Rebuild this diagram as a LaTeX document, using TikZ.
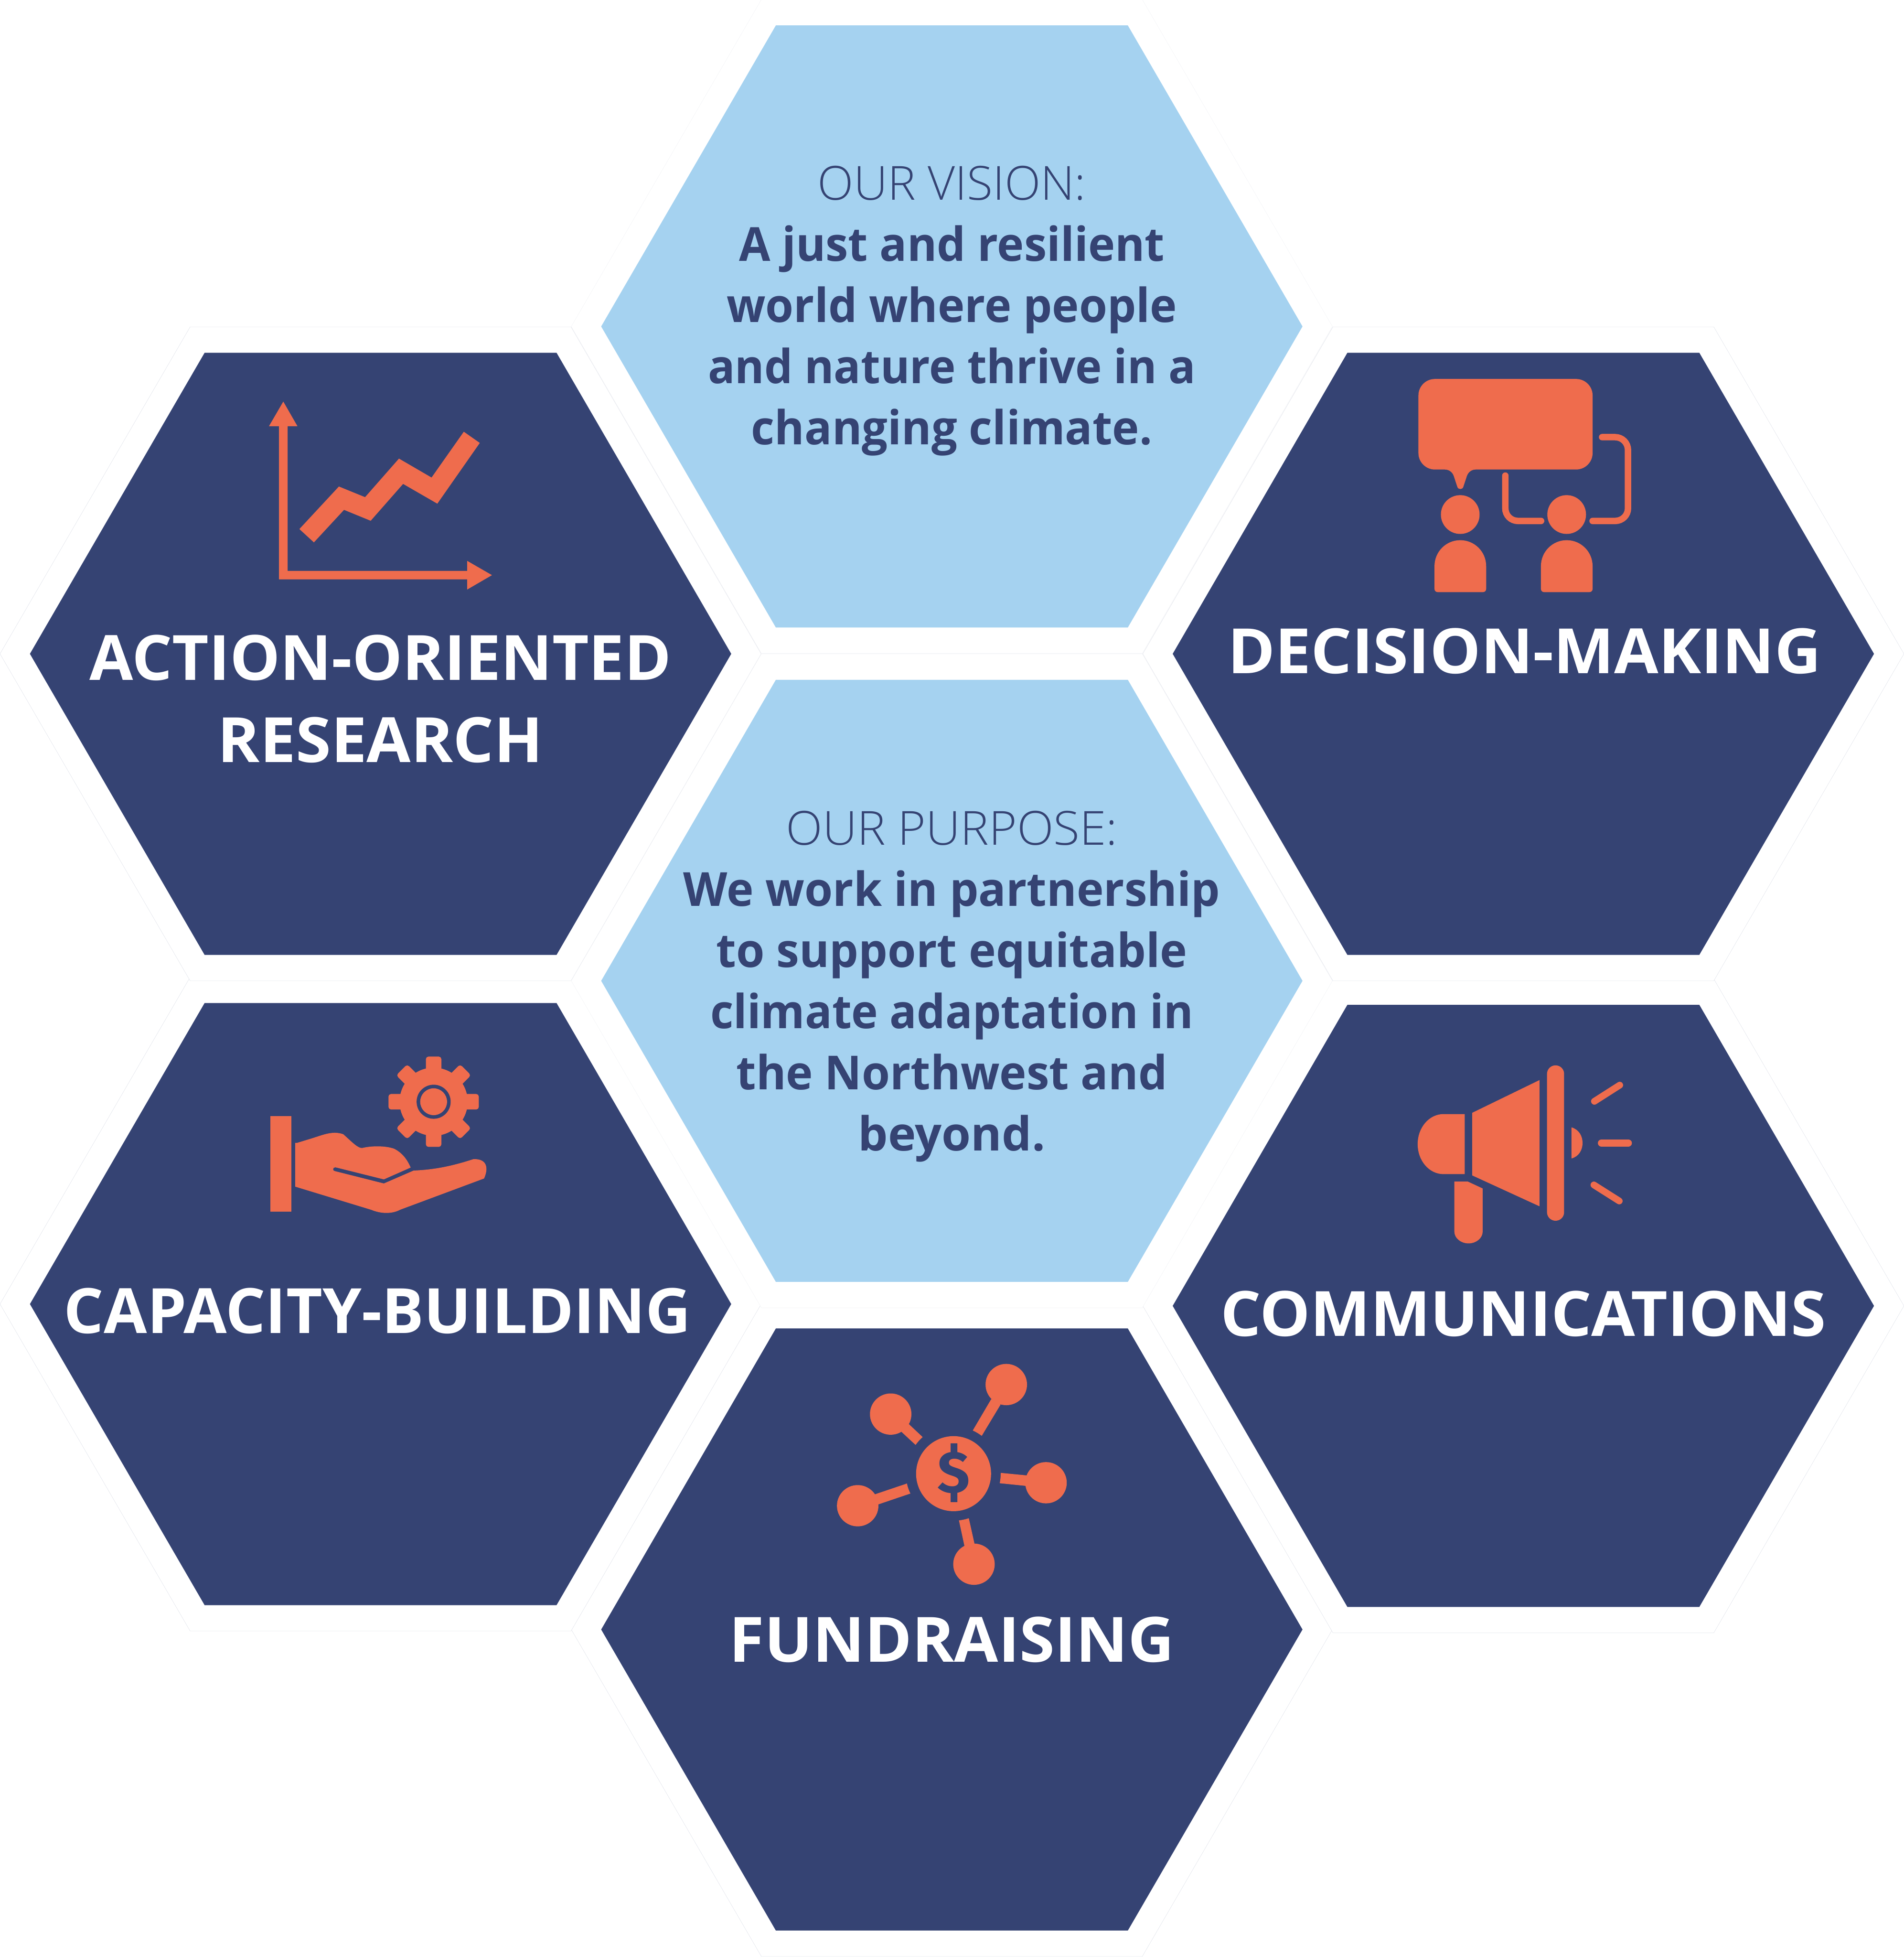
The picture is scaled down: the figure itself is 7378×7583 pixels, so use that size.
\documentclass[tikz,border=0pt]{standalone}
\usepackage{fontspec}
\usepackage{graphicx}
\setmainfont{Open Sans}
\newfontfamily\fsb{Open Sans}[UprightFont=* Bold]
\newfontfamily\fsl{Open Sans}[UprightFont=* Light]
\newfontfamily\fsd{Fira Sans}[UprightFont=* Bold]
\definecolor{navy}{HTML}{354373}
\definecolor{coral}{HTML}{EF6C4D}
\definecolor{sky}{HTML}{A5D2F0}
\definecolor{faint}{HTML}{DDE0E8}
\definecolor{fainter}{HTML}{F2F3F6}
\newcommand{\hexa}[3]{%
  \draw[#3] (#1-1359,#2) -- (#1-682,#2-1166.5) -- (#1+682,#2-1166.5) -- (#1+1359,#2) -- (#1+682,#2+1166.5) -- (#1-682,#2+1166.5) -- cycle;}
\newcommand{\hexb}[3]{%
  \draw[fill=white,draw=#3,line width=0.1pt] (#1-1475,#2) -- (#1-738,#2-1267) -- (#1+738,#2-1267) -- (#1+1475,#2) -- (#1+738,#2+1267) -- (#1-738,#2+1267) -- cycle;}
\newcommand{\tl}[2]{\resizebox{#1pt}{\height}{#2}}
\tikzset{
  navyhex/.style={fill=navy,draw=none},
  skyhex/.style={fill=sky,draw=none},
  ic/.style={fill=coral,draw=none},
  icl/.style={draw=coral,line cap=round,fill=none},
  title/.style={text=white,font=\fsb\fontsize{24.2}{32}\selectfont,align=center,inner sep=0pt},
  body/.style={text=navy,font=\fsb\fontsize{18.2}{23.7}\selectfont,align=center,inner sep=0pt},
}
\begin{document}
\begin{tikzpicture}[x=0.1pt,y=-0.1pt]
\useasboundingbox (0,0) rectangle (7378,7583);
\hexb{3689}{6314}{faint}
\hexb{1475}{5053}{faint}
\hexb{5904}{5060}{faint}
\hexb{1475}{2533.5}{faint}
\hexb{5904}{2533.5}{faint}
\hexb{3689}{3800.5}{fainter}
\hexb{3689}{1265}{fainter}
\hexa{3689}{1265}{skyhex}
\hexa{3689}{3800.5}{skyhex}
\hexa{1475}{2533.5}{navyhex}
\hexa{5904}{2533.5}{navyhex}
\hexa{1475}{5053}{navyhex}
\hexa{5904}{5060}{navyhex}
\hexa{3689}{6314}{navyhex}

\node[body] (vision) at (3689,1205) {\tl{104.0}{\fsl OUR VISION:}\\\tl{165.0}{A just and resilient}\\\tl{174.5}{world where people}\\\tl{189.0}{and nature thrive in a}\\\tl{155.5}{changing climate.}};
\node[body] (purpose) at (3689,3822) {\tl{128.5}{\fsl OUR PURPOSE:}\\\tl{208.0}{We work in partnership}\\\tl{182.5}{to support equitable}\\\tl{187.2}{climate adaptation in}\\\tl{167.0}{the Northwest and}\\\tl{72.5}{beyond.}};
\node[title] (research) at (1474,2708) {\tl{225.5}{ACTION-ORIENTED}\\\tl{126.0}{RESEARCH}};
\node[title,anchor=base] (decision) at (5908,2609) {\tl{230.0}{DECISION-MAKING}};
\node[title,anchor=base] (capacity) at (1463,5166) {\tl{243.0}{CAPACITY-BUILDING}};
\node[title,anchor=base] (comms) at (5904,5178) {\tl{234.5}{COMMUNICATIONS}};
\node[title,anchor=base] (funds) at (3689,6440) {\tl{172.5}{FUNDRAISING}};

% research icon
\begin{scope}[shift={(950,1500)},xscale=0.63776,yscale=0.5102]
\fill[ic] (232,110) -- (318,297) -- (258,297) -- (258,1396) -- (1350,1396) -- (1350,1320) -- (1500,1428) -- (1350,1537) -- (1350,1460) -- (206,1460) -- (206,297) -- (145,297) -- cycle;
\fill[ic] (330,1078) -- (570,755) -- (729,836) -- (935,543) -- (1133,687) -- (1329,339) -- (1426,424) -- (1168,885) -- (960,735) -- (763,1015) -- (601,932) -- (418,1179) -- cycle;
\end{scope}

% decision icon
\begin{scope}[shift={(5350,1400)},xscale=0.66964,yscale=0.60587]
\fill[ic] (315,113) -- (1133,113) .. controls (1185,113) and (1228,160) .. (1228,218) -- (1228,587) .. controls (1228,645) and (1185,692) .. (1133,692) -- (552,692) .. controls (528,692) and (508,708) .. (500,735) -- (480,802) .. controls (475,822) and (450,822) .. (445,802) -- (425,735) .. controls (417,708) and (397,692) .. (372,692) -- (315,692) .. controls (263,692) and (220,645) .. (220,587) -- (220,218) .. controls (220,160) and (263,113) .. (315,113) -- cycle;
\fill[ic] (462,980) ellipse [x radius=112,y radius=124];
\fill[ic] (1078,980) ellipse [x radius=112,y radius=124];
\foreach \ox in {0,616}{
\fill[ic] (313+\ox,1310) .. controls (313+\ox,1218) and (380+\ox,1144) .. (462+\ox,1144) .. controls (545+\ox,1144) and (612+\ox,1218) .. (612+\ox,1310) -- (612+\ox,1456) .. controls (612+\ox,1468) and (603+\ox,1476) .. (594+\ox,1476) -- (331+\ox,1476) .. controls (322+\ox,1476) and (313+\ox,1468) .. (313+\ox,1456) -- cycle;}
\draw[icl,line width=2.5pt] (723,731) -- (723,940) .. controls (723,985) and (755,1021) .. (797,1021) -- (930,1021);
\draw[icl,line width=2.5pt] (1283,485) -- (1358,485) .. controls (1400,485) and (1433,522) .. (1433,568) -- (1433,940) .. controls (1433,985) and (1400,1021) .. (1358,1021) -- (1228,1021);
\end{scope}

% capacity icon
\begin{scope}[shift={(950,4000)},xscale=0.66964,yscale=0.5102]
\fill[ic] (145,638) rectangle (269,1362);
\fill[ic] (290,840) -- (300,840) -- (380,808) .. controls (450,780) and (505,745) .. (568,774) .. controls (620,835) and (655,885) .. (680,878) .. controls (730,862) and (810,860) .. (862,884) .. controls (910,915) and (940,970) .. (958,1027) -- (803,1117) -- (522,1025) .. controls (505,1025) and (505,1055) .. (522,1055) -- (803,1148) -- (975,1050) .. controls (1100,1043) and (1200,1015) .. (1322,963) .. controls (1400,960) and (1410,1030) .. (1383,1110) -- (898,1347) .. controls (850,1380) and (790,1380) .. (730,1348) -- (290,1172) -- cycle;
\end{scope}
\begin{scope}[shift={(1680.6,4269)}]
\fill[ic] (0,0) circle [radius=132];
\foreach \a in {0,45,...,315}{
\fill[ic,rotate=\a,rounded corners=1pt] (100,-30) rectangle (175,30);}
\fill[navy] (0,0) circle [radius=66];
\fill[ic] (0,0) circle [radius=52];
\end{scope}

% comms icon
\begin{scope}[shift={(5400,4050)},xscale=0.63776,yscale=0.5102]
\fill[ic] (434,523) -- (305,523) .. controls (218,523) and (148,625) .. (148,751) .. controls (148,877) and (218,979) .. (305,979) -- (434,979) -- cycle;
\fill[ic] (480,513) -- (888,265) -- (888,1223) -- (480,989) -- cycle;
\fill[ic] (934,218) .. controls (934,182) and (957,153) .. (986,153) .. controls (1015,153) and (1038,182) .. (1038,218) -- (1038,1268) .. controls (1038,1304) and (1015,1333) .. (986,1333) .. controls (957,1333) and (934,1304) .. (934,1268) -- cycle;
\fill[ic] (1083,624) .. controls (1128,640) and (1150,690) .. (1150,742) .. controls (1150,795) and (1128,845) .. (1083,860) -- cycle;
\fill[ic] (371,1035) -- (452,1035) -- (543,1088) -- (543,1415) .. controls (543,1465) and (504,1505) .. (457,1505) .. controls (410,1505) and (371,1465) .. (371,1415) -- cycle;
\draw[icl,line width=2.8pt] (1265,743) -- (1428,743);
\draw[icl,line width=2.6pt] (1222,426) -- (1376,303);
\draw[icl,line width=2.6pt] (1219,1061) -- (1373,1183);
\end{scope}

% fundraising icon
\begin{scope}[shift={(3150,5200)},xscale=0.66964,yscale=0.60587]
\fill[ic] (815,842) ellipse [x radius=217,y radius=240];
\fill[ic] (1120,272) ellipse [x radius=120,y radius=132];
\fill[ic] (451,461) ellipse [x radius=120,y radius=132];
\fill[ic] (1350,900) ellipse [x radius=120,y radius=132];
\fill[ic] (260,1047) ellipse [x radius=120,y radius=132];
\fill[ic] (933,1421) ellipse [x radius=120,y radius=132];
\fill[ic] (926,566) -- (1033,365) -- (1087,400) -- (978,600) .. controls (962,587) and (945,575) .. (926,566) -- cycle;
\fill[ic] (556,525) -- (636,608) .. controls (620,623) and (607,640) .. (595,658) -- (513,574) -- cycle;
\fill[ic] (1088,837) -- (1238,853) -- (1232,920) -- (1082,903) .. controls (1086,882) and (1088,860) .. (1088,837) -- cycle;
\fill[ic] (360,974) -- (545,905) .. controls (549,928) and (556,948) .. (565,969) -- (378,1039) -- cycle;
\fill[ic] (846,1141) .. controls (866,1138) and (885,1134) .. (903,1127) -- (936,1290) -- (878,1305) -- cycle;
\node[text=navy,font=\fsd\fontsize{23}{23}\selectfont,inner sep=0pt] (dollar) at (815,838) {\$};
\end{scope}
\end{tikzpicture}
\end{document}
